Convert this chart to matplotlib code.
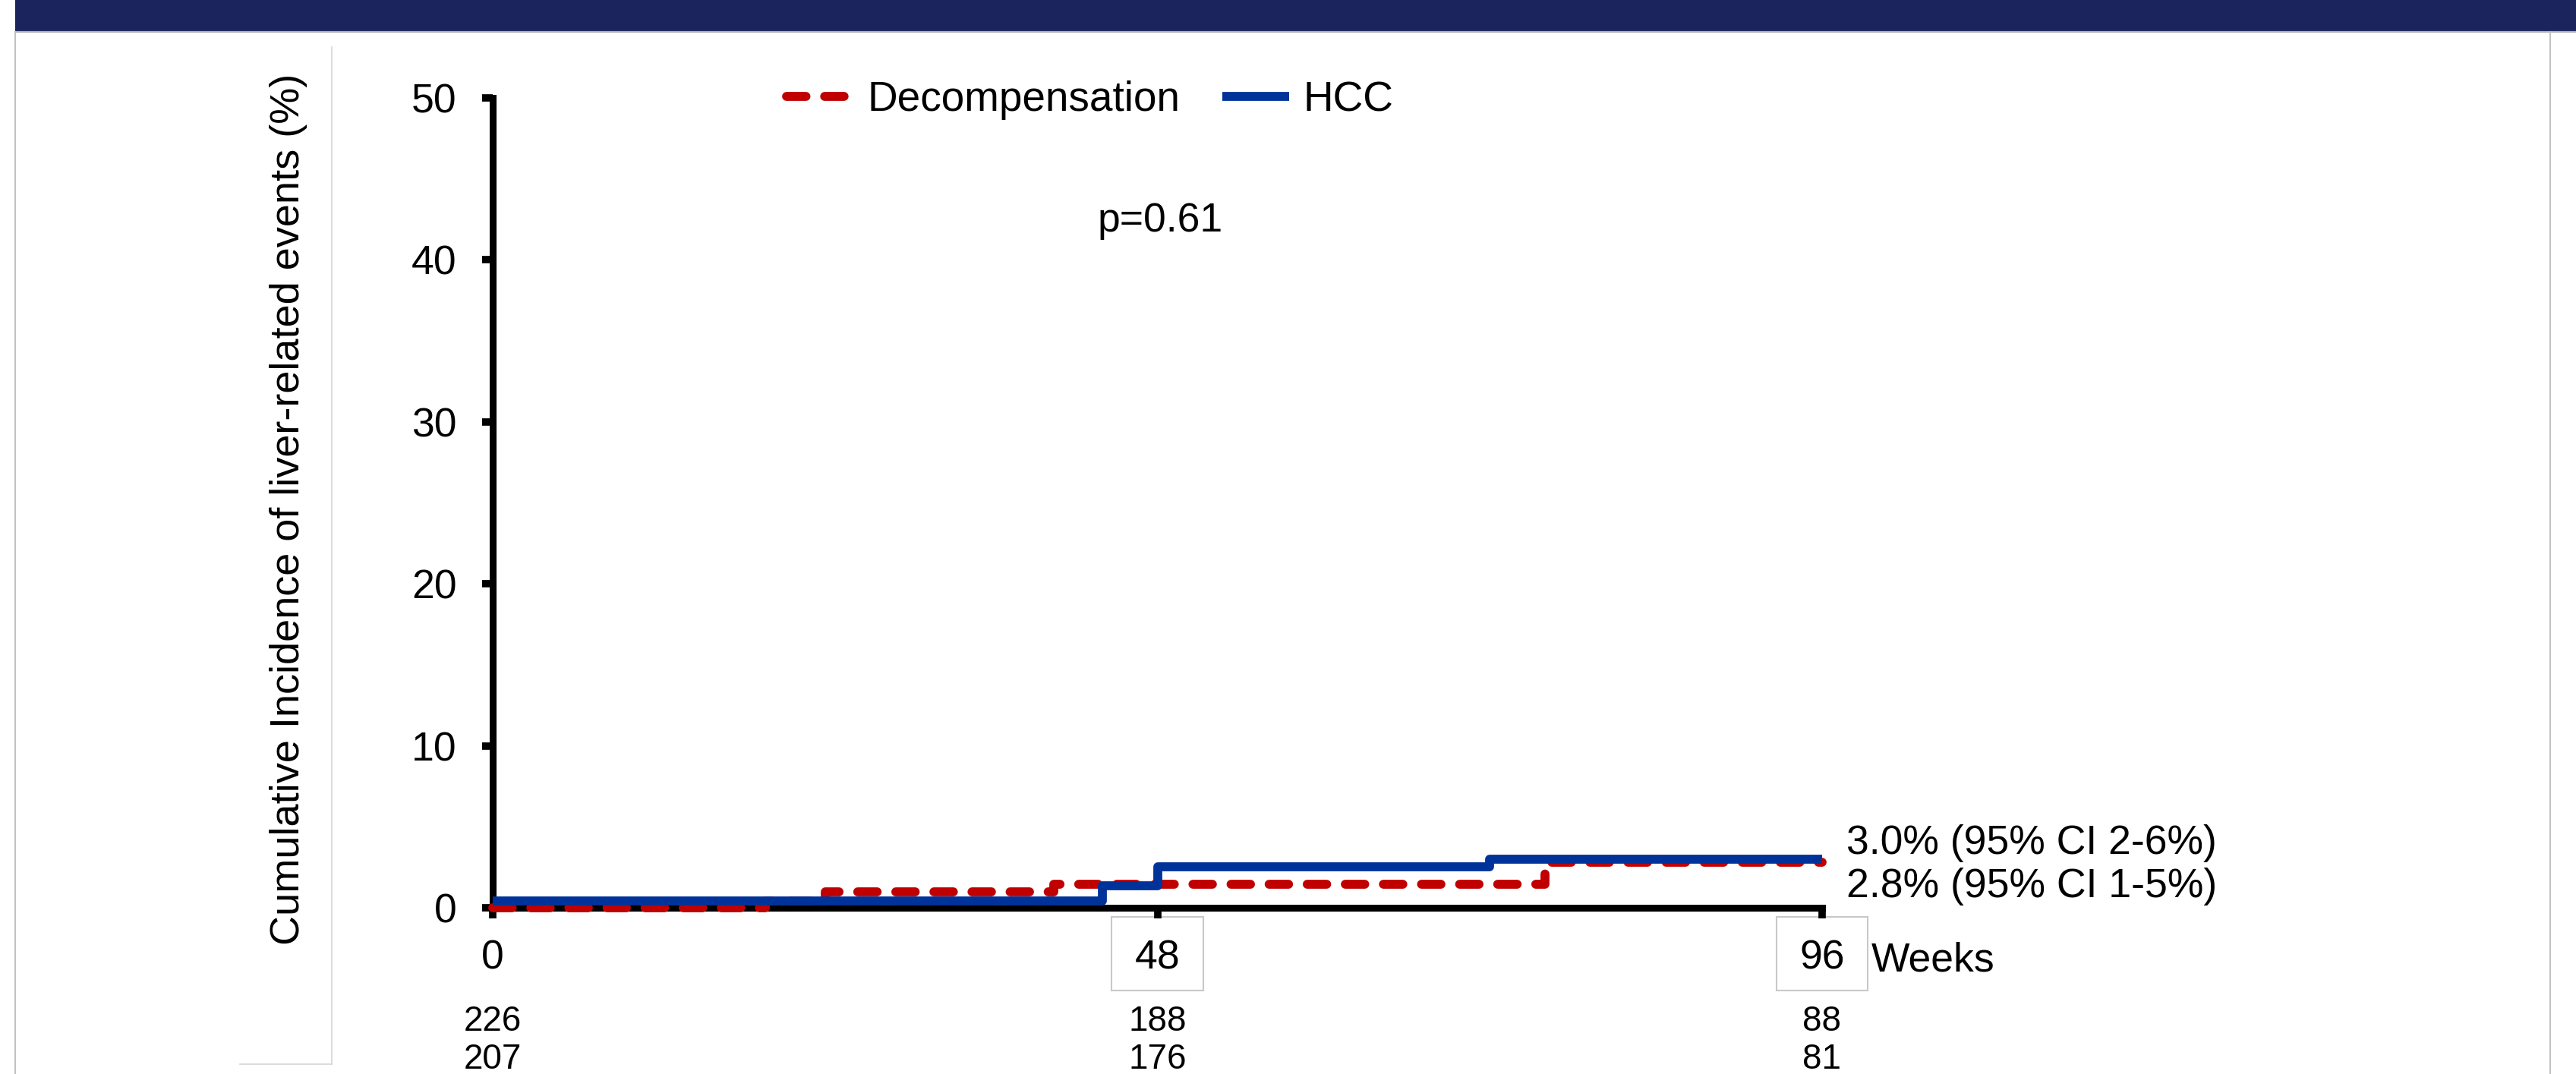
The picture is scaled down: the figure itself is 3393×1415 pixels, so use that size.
import matplotlib.pyplot as plt
from matplotlib.patches import Rectangle
from matplotlib.lines import Line2D

plt.rcParams['font.family'] = ['Liberation Sans', 'DejaVu Sans']

# cumulative incidence (%), change points in weeks
decomp_weeks = [0, 19.7, 24, 40.5, 76, 96]
decomp_pct = [0, 0.44, 1.0, 1.45, 2.8, 2.8]
hcc_weeks = [0, 44, 48, 72, 96]
hcc_pct = [0.42, 1.37, 2.55, 3.0, 3.0]

week_ticks = [0, 48, 96]
at_risk_1 = [226, 188, 88]
at_risk_2 = [207, 176, 81]

final_labels = ['3.0% (95% CI 2-6%)', '2.8% (95% CI 1-5%)']
p_label = 'p=0.61'
y_title = 'Cumulative Incidence of liver-related events (%)'

RED = '#c00000'
BLUE = '#003399'

W, H = 3393, 1415
fig = plt.figure(figsize=(W / 100, H / 100), dpi=100)

# ---- slide frame: navy banner + thin grey borders ----
fig.add_artist(Rectangle((20 / W, 1 - 41 / H), (W - 20) / W, 41 / H,
                         transform=fig.transFigure, color='#1b245c', lw=0))
fig.add_artist(Line2D([20 / W, 1], [1 - 42 / H] * 2, transform=fig.transFigure,
                      color='#b4b4b4', lw=1.6))
fig.add_artist(Line2D([20 / W] * 2, [0, 1 - 42 / H], transform=fig.transFigure,
                      color='#c0c0c0', lw=1.4))
fig.add_artist(Line2D([3359 / W] * 2, [0, 1 - 42 / H], transform=fig.transFigure,
                      color='#c0c0c0', lw=1.4))
fig.add_artist(Line2D([437 / W] * 2, [1 - 62 / H, 1 - 1402 / H], transform=fig.transFigure,
                      color='#d4d4d4', lw=1.2))
fig.add_artist(Line2D([316 / W, 437 / W], [1 - 1402 / H] * 2, transform=fig.transFigure,
                      color='#d4d4d4', lw=1.2))

# ---- plot area ----
ax = fig.add_axes([649 / W, 1 - 1196 / H, (2400 - 649) / W, (1196 - 129) / H])

ax.step(decomp_weeks, decomp_pct, where='post', color=RED, lw=8.5,
        dashes=(2.17, 2.08), dash_capstyle='round', dash_joinstyle='round',
        clip_on=False, zorder=3, label='Decompensation')
ax.step(hcc_weeks, hcc_pct, where='post', color=BLUE, lw=8.5,
        solid_capstyle='butt', solid_joinstyle='round',
        clip_on=False, zorder=4, label='HCC')

ax.set_xlim(0, 96)
ax.set_ylim(0, 50)
ax.set_xticks(week_ticks)
ax.set_yticks(range(0, 51, 10))
ax.spines[['top', 'right']].set_visible(False)
for side in ['left', 'bottom']:
    ax.spines[side].set_linewidth(6.5)
ax.tick_params(axis='both', direction='out', length=10, width=7, labelsize=38.5)
ax.tick_params(axis='x', pad=20)
ax.tick_params(axis='y', pad=24)

# thin boxes round the 48 / 96 tick labels
for wk in week_ticks[1:]:
    ax.add_patch(Rectangle((wk - 3.3, -5.1), 6.6, 4.55, fill=False,
                           edgecolor='#c8c8c8', lw=1.5, clip_on=False, zorder=1))

ax.text(99.56, -3.89, 'Weeks', fontsize=38.5, va='baseline', ha='left')

# numbers at risk
for wk, a, b in zip(week_ticks, at_risk_1, at_risk_2):
    ax.text(wk, -7.61, str(a), fontsize=33, ha='center', va='baseline')
    ax.text(wk, -9.95, str(b), fontsize=33, ha='center', va='baseline')

ax.text(97.75, 3.33, final_labels[0], fontsize=38.5, va='baseline', ha='left')
ax.text(97.75, 0.66, final_labels[1], fontsize=38.5, va='baseline', ha='left')
ax.text(48.2, 41.75, p_label, fontsize=38.5, va='baseline', ha='center')

ax.legend(loc='center left', bbox_to_anchor=(0.221, 0.997), ncol=2, frameon=False,
          fontsize=39.5, handlelength=1.6, handletextpad=0.35, columnspacing=1.0,
          borderpad=0, borderaxespad=0)

fig.text(380 / W, 1 - 671 / H, y_title, rotation=90, ha='center', va='center', fontsize=39)

fig.savefig('out.png', dpi=100)
